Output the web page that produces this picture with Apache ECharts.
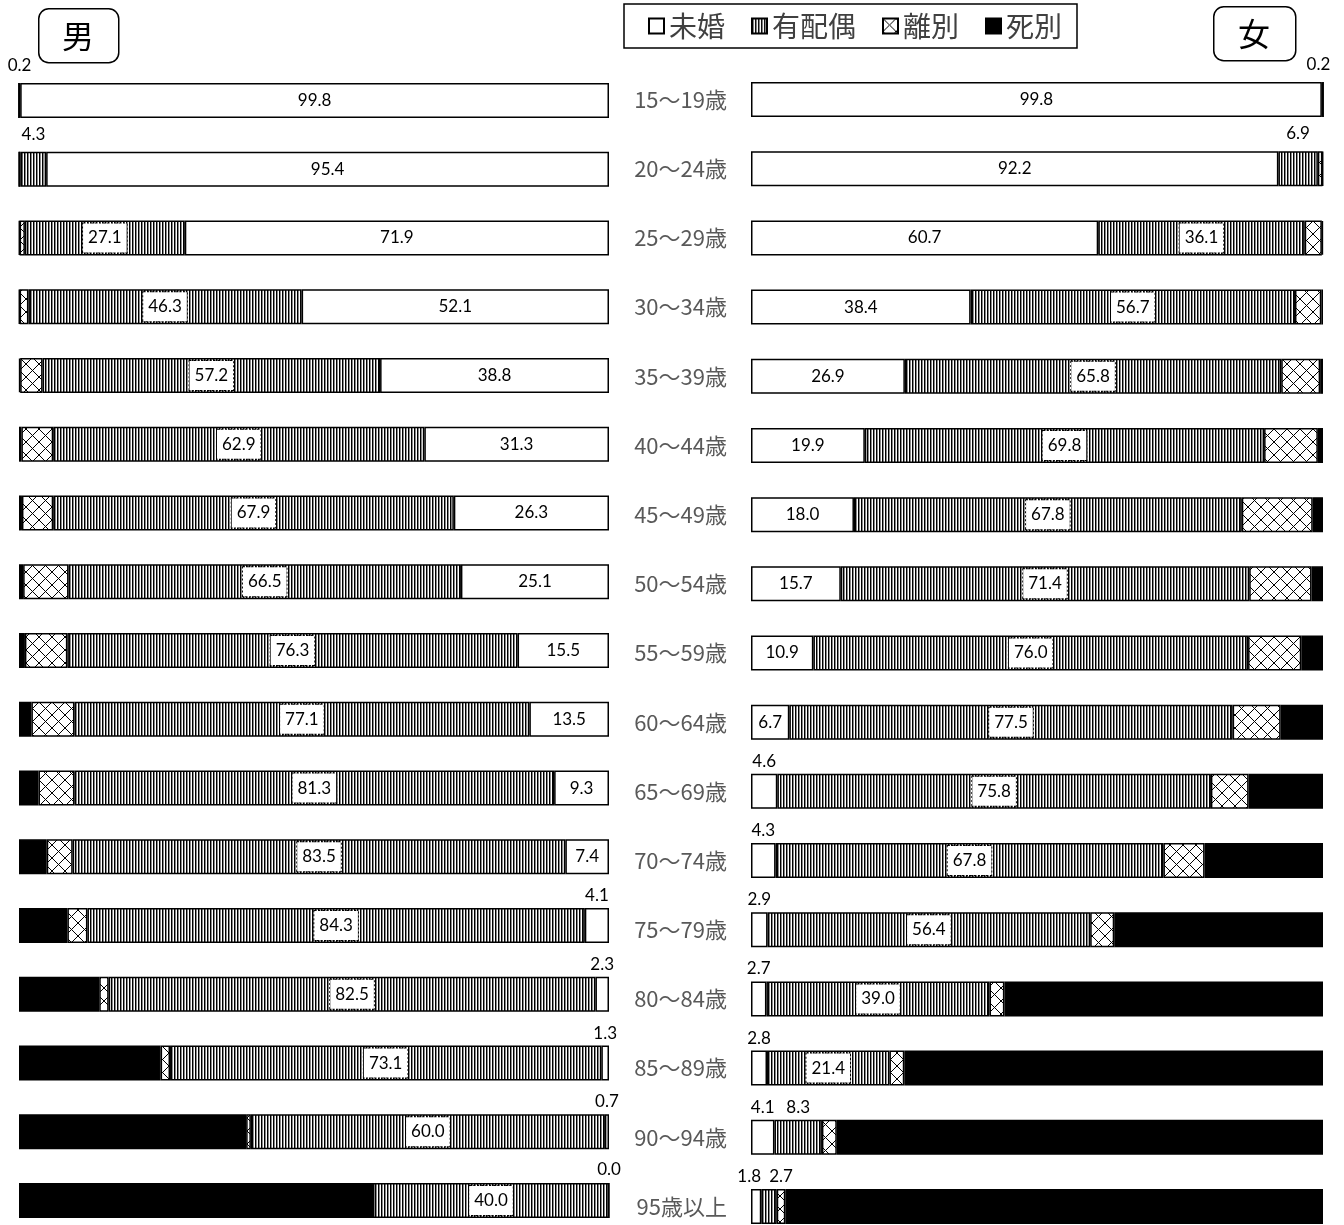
<!DOCTYPE html>
<html>
<head>
<meta charset="utf-8">
<script src="https://cdn.jsdelivr.net/npm/echarts@6/dist/echarts.min.js"></script>
<style>
html,body{margin:0;padding:0;background:#fff;}
#chart{width:1344px;height:1225px;}
</style>
</head>
<body>
<div id="chart"></div>
<script>
// ---- data ----
const ages = ['15～19歳','20～24歳','25～29歳','30～34歳','35～39歳','40～44歳','45～49歳','50～54歳','55～59歳','60～64歳','65～69歳','70～74歳','75～79歳','80～84歳','85～89歳','90～94歳','95歳以上'];
const seriesNames = ['未婚','有配偶','離別','死別'];

const maleSingle   = [99.8, 95.4, 71.9, 52.1, 38.8, 31.3, 26.3, 25.1, 15.5, 13.5, 9.3, 7.4, 4.1, 2.3, 1.3, 0.7, 0.0];
const maleMarried  = [0.2, 4.3, 27.1, 46.3, 57.2, 62.9, 67.9, 66.5, 76.3, 77.1, 81.3, 83.5, 84.3, 82.5, 73.1, 60.0, 40.0];
const maleDivorced = [0, 0.3, 0.9, 1.5, 3.8, 5.4, 5.3, 7.7, 7.2, 7.3, 6.1, 4.4, 3.4, 1.6, 1.6, 0.8, 0.0];
const maleWidowed  = [0, 0, 0.1, 0.1, 0.2, 0.4, 0.5, 0.7, 1.0, 2.1, 3.3, 4.7, 8.2, 13.6, 24.0, 38.5, 60.0];

const femSingle   = [99.8, 92.2, 60.7, 38.4, 26.9, 19.9, 18.0, 15.7, 10.9, 6.7, 4.6, 4.3, 2.9, 2.7, 2.8, 4.1, 1.8];
const femMarried  = [0.2, 6.9, 36.1, 56.7, 65.8, 69.8, 67.8, 71.4, 76.0, 77.5, 75.8, 67.8, 56.4, 39.0, 21.4, 8.3, 2.7];
const femDivorced = [0, 0.8, 3.0, 4.6, 6.8, 9.4, 12.4, 10.9, 9.3, 8.4, 6.6, 7.2, 4.2, 2.6, 2.6, 2.6, 1.5];
const femWidowed  = [0, 0.1, 0.2, 0.3, 0.5, 0.9, 1.8, 2.0, 3.8, 7.4, 13.0, 20.7, 36.5, 55.7, 73.2, 85.0, 94.0];

// ---- patterns ----
function vPattern(){
  const c = document.createElement('canvas'); c.width = 3; c.height = 8;
  const g = c.getContext('2d');
  g.fillStyle = '#fff'; g.fillRect(0,0,3,8);
  g.fillStyle = '#000'; g.fillRect(0,0,1,8);
  g.fillStyle = '#8a8a8a'; g.fillRect(1,0,1,8);
  return {image:c, repeat:'repeat'};
}
function xPattern(){
  const s = 13;
  const c = document.createElement('canvas'); c.width = s; c.height = s;
  const g = c.getContext('2d');
  g.fillStyle = '#fff'; g.fillRect(0,0,s,s);
  g.strokeStyle = '#000'; g.lineWidth = 1;
  g.beginPath();
  g.moveTo(0,0); g.lineTo(s,s);
  g.moveTo(s,0); g.lineTo(0,s);
  g.stroke();
  return {image:c, repeat:'repeat'};
}
const fills = ['#ffffff', vPattern(), xPattern(), '#000000'];

const NUM_FONT = 'Lato, "Open Sans", sans-serif';
const JP_FONT = '"Noto Sans CJK JP", "Noto Sans", sans-serif';

const insideLabel = {show:true, position:'inside', color:'#000', fontSize:17, fontFamily:NUM_FONT};
const boxLabel = {show:true, position:'inside', color:'#000', fontSize:17, fontFamily:NUM_FONT,
  backgroundColor:'#fff', borderColor:'#000', borderWidth:1, borderType:'dotted', padding:[6,5]};
const topLabel = {show:true, position:'top', distance:4, color:'#000', fontSize:17, fontFamily:NUM_FONT};

function fmt(p){ return Number(p.value).toFixed(1); }

function buildData(values, kind, side){
  return values.map((v, i) => {
    const item = {value: v};
    if (kind === 0) {
      item.label = v >= 5 ? Object.assign({}, insideLabel) : Object.assign({}, topLabel);
    } else if (kind === 1) {
      item.label = v >= 10 ? Object.assign({}, boxLabel) : Object.assign({}, topLabel);
    } else {
      item.label = {show:false};
    }
    // small manual nudges of labels (as placed in the reference)
    if (kind === 1 && i < 2) item.label.offset = [0, -5];
    if (side === 'f' && i === ages.length - 1 && kind === 0) item.label.offset = [-7, 0];
    if (side === 'f' && i === ages.length - 1 && kind === 1) item.label.offset = [12, 0];
    if (side === 'f' && i === 0 && kind === 1) item.label.offset = [-4, -5];
    return item;
  });
}

const maleSets = [maleSingle, maleMarried, maleDivorced, maleWidowed];
const femSets = [femSingle, femMarried, femDivorced, femWidowed];

const series = [];
seriesNames.forEach((name, k) => {
  series.push({
    name, type:'bar', stack:'m', xAxisIndex:0, yAxisIndex:0, barWidth:35,
    data: buildData(maleSets[k], k, 'm'),
    itemStyle:{color:fills[k], borderColor:'#000', borderWidth:1.5},
    label:{formatter:fmt}, emphasis:{disabled:true}, animation:false
  });
});
seriesNames.forEach((name, k) => {
  series.push({
    name, type:'bar', stack:'f', xAxisIndex:1, yAxisIndex:1, barWidth:35,
    data: buildData(femSets[k], k, 'f'),
    itemStyle:{color:fills[k], borderColor:'#000', borderWidth:1.5},
    label:{formatter:fmt}, emphasis:{disabled:true}, animation:false
  });
});

const chart = echarts.init(document.getElementById('chart'), null, {renderer:'canvas'});
chart.setOption({
  backgroundColor:'#fff',
  animation:false,
  legend:{
    data: seriesNames,
    left: 624, top: 4,
    orient:'horizontal',
    borderColor:'#000', borderWidth:1.5,
    padding:[8, 15, 8, 24],
    itemWidth:15, itemHeight:15, itemGap:26,
    icon:'rect',
    textStyle:{fontSize:28, color:'#404040', fontFamily:JP_FONT},
    selectedMode:false
  },
  grid:[
    {left:19, width:590, top:66, height:1169, outerBoundsMode:'none', containLabel:false},
    {left:751, width:572, top:65, height:1176, outerBoundsMode:'none', containLabel:false}
  ],
  xAxis:[
    {gridIndex:0, type:'value', min:0, max:100, inverse:true, show:false},
    {gridIndex:1, type:'value', min:0, max:100, show:false}
  ],
  yAxis:[
    {gridIndex:0, type:'category', data:ages, inverse:true,
     axisLine:{show:false}, axisTick:{show:false}, axisLabel:{show:false}, splitLine:{show:false}},
    {gridIndex:1, type:'category', data:ages, inverse:true,
     axisLine:{show:false}, axisTick:{show:false}, splitLine:{show:false},
     axisLabel:{show:true, fontSize:22, color:'#595959', margin:24, fontFamily:JP_FONT}}
  ],
  graphic:[
    {type:'rect', left:38, top:8, shape:{width:80, height:54, r:10},
     style:{fill:'#fff', stroke:'#000', lineWidth:1.5}},
    {type:'text', x:78, y:36, style:{text:'男', fill:'#000', font:'32px "Noto Sans CJK JP"', align:'center', verticalAlign:'middle'}},
    {type:'rect', left:1213, top:6, shape:{width:82, height:54, r:10},
     style:{fill:'#fff', stroke:'#000', lineWidth:1.5}},
    {type:'text', x:1254, y:34, style:{text:'女', fill:'#000', font:'32px "Noto Sans CJK JP"', align:'center', verticalAlign:'middle'}}
  ],
  series
});
</script>
</body>
</html>
